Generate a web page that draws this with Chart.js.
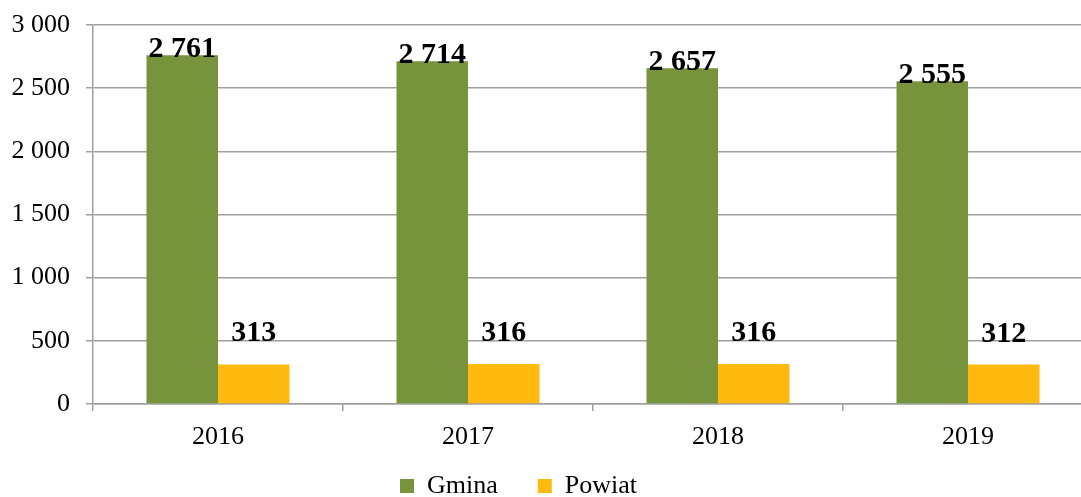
<!DOCTYPE html>
<html>
<head>
<meta charset="utf-8">
<script src="https://cdn.jsdelivr.net/npm/chart.js@4"></script>
<style>
  html, body { margin: 0; padding: 0; background: #fff; overflow: hidden; }
  #wrap { width: 1100px; height: 497px; }
</style>
</head>
<body>
<div id="wrap"><canvas id="chart" width="1100" height="497"></canvas></div>
<script>
const years = ['2016', '2017', '2018', '2019'];
const gmina = [2761, 2714, 2657, 2555];
const powiat = [313, 316, 316, 312];
const seriesNames = ['Gmina', 'Powiat'];

const FONT = "'Liberation Serif', 'Times New Roman', serif";
const GRID = '#A0A0A0';

// 2 761 style numbers
const fmt = (v) => String(v).replace(/\B(?=(\d{3})+(?!\d))/g, ' ');

// value labels above bars (Gmina sits on the bar, Powiat floats a bit higher)
const barLabels = {
    id: 'barLabels',
    afterDatasetsDraw(chart) {
        const ctx = chart.ctx;
        const lift = [-2, 23];
        ctx.save();
        ctx.font = 'bold 30px ' + FONT;
        ctx.fillStyle = '#000';
        ctx.textAlign = 'center';
        ctx.textBaseline = 'alphabetic';
        chart.data.datasets.forEach((ds, i) => {
            chart.getDatasetMeta(i).data.forEach((bar, j) => {
                ctx.fillText(fmt(ds.data[j]), bar.x, bar.y - lift[i]);
            });
        });
        ctx.restore();
    }
};

// legend is centred under the visible part of the picture, not the whole plot,
// and pulled up closer to the year labels
const legendShift = {
    id: 'legendShift',
    afterLayout(chart) {
        const lg = chart.legend;
        lg.left -= 28;
        lg.right -= 28;
        lg.top -= 27;
        lg.bottom -= 27;
    }
};

new Chart(document.getElementById('chart'), {
    type: 'bar',
    data: {
        labels: years,
        datasets: [
            { label: seriesNames[0], data: gmina, backgroundColor: '#77933C' },
            { label: seriesNames[1], data: powiat, backgroundColor: '#FFB90F' },
        ],
    },
    options: {
        responsive: false,
        animation: false,
        layout: { padding: { top: 25, right: 7, left: 0, bottom: -39 } },
        datasets: { bar: { categoryPercentage: 0.572, barPercentage: 1.0 } },
        plugins: {
            tooltip: { enabled: false },
            legend: {
                position: 'bottom',
                labels: {
                    boxWidth: 14,
                    boxHeight: 14,
                    padding: 40,
                    color: '#000',
                    font: { family: FONT, size: 26 },
                },
            },
        },
        scales: {
            x: {
                grid: { offset: true, drawOnChartArea: false, color: GRID, lineWidth: 1.5, tickLength: 7 },
                border: { color: GRID, width: 1.5 },
                ticks: { color: '#000', padding: 11, font: { family: FONT, size: 26 } },
                afterFit(scale) { scale.height = 56; },
            },
            y: {
                min: 0,
                max: 3000,
                grid: { color: GRID, lineWidth: 1.5, tickLength: 7 },
                border: { color: GRID, width: 1.5 },
                ticks: {
                    stepSize: 500,
                    color: '#000',
                    padding: 16,
                    font: { family: FONT, size: 26 },
                    callback: (v) => fmt(v),
                },
                afterFit(scale) {
                    scale.width = 93;
                    scale.paddingTop = 0;
                    scale.paddingBottom = 0;
                },
            },
        },
    },
    plugins: [barLabels, legendShift],
});
</script>
</body>
</html>
